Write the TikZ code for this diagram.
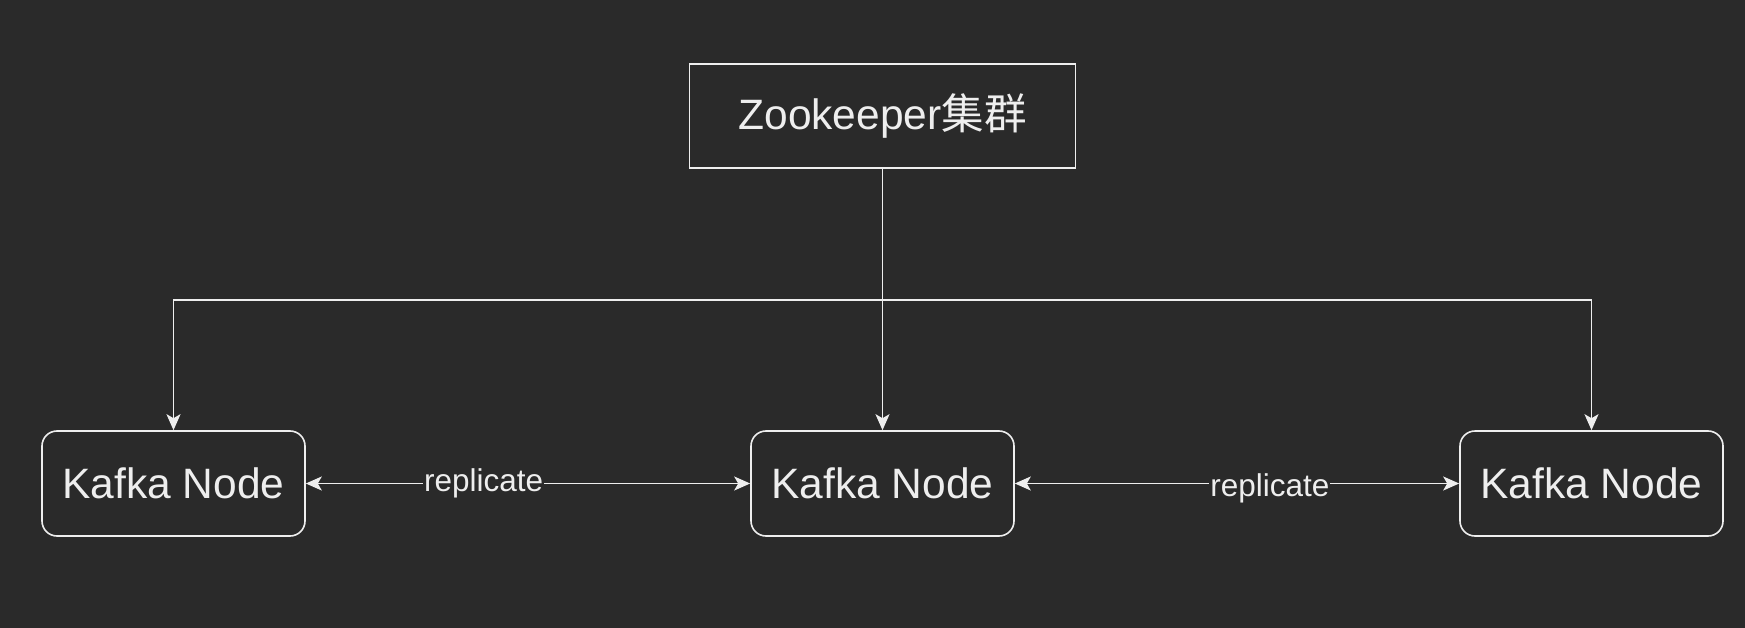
\documentclass[tikz,border=0pt]{standalone}
\usepackage{fontspec}
\setmainfont{Liberation Sans}
\newfontfamily\cjk{Noto Sans CJK SC}
\usetikzlibrary{arrows.meta}
\definecolor{bg}{HTML}{2A2A2A}
\definecolor{fg}{HTML}{EEEEEE}
\tikzset{
  box/.style={draw=fg, line width=1.6pt, text=fg, minimum width=386pt, minimum height=104pt, inner sep=0pt, font=\fontsize{42.5}{50}\selectfont},
  kbox/.style={draw=fg, line width=1.6pt, text=fg, rounded corners=15pt, minimum width=263pt, minimum height=105pt, inner sep=0pt, font=\fontsize{42.5}{50}\selectfont},
  conn/.style={draw=fg, line width=1.8pt, -{Stealth[length=16pt,width=14pt,inset=4pt]}},
  biconn/.style={draw=fg, line width=1.8pt, {Stealth[length=16pt,width=14pt,inset=4pt]}-{Stealth[length=16pt,width=14pt,inset=4pt]}},
  lbl/.style={fill=bg, text=fg, inner sep=1pt, font=\fontsize{31.5}{36}\selectfont}
}
\begin{document}
\begin{tikzpicture}[x=1pt,y=-1pt]
\fill[bg] (0,0) rectangle (1745,628);
\useasboundingbox (0,0) rectangle (1745,628);
\node[box] (zk) at (882.5,116) {Zookeeper{\cjk 集群}};
\node[kbox] (k1) at (173.5,483.5) {Kafka Node};
\node[kbox] (k2) at (882.5,483.5) {Kafka Node};
\node[kbox] (k3) at (1591.5,483.5) {Kafka Node};
\coordinate (bus) at (882.5,300);
\draw[conn] (zk.south) -- (k2.north);
\draw[conn] (bus) -| (k1.north);
\draw[conn] (bus) -| (k3.north);
\draw[biconn] (k1.east) -- node[lbl, pos=0.40, yshift=0pt] (r1) {replicate} (k2.west);
\draw[biconn] (k2.east) -- node[lbl, pos=0.574, yshift=-5pt] (r2) {replicate} (k3.west);
\end{tikzpicture}
\end{document}
